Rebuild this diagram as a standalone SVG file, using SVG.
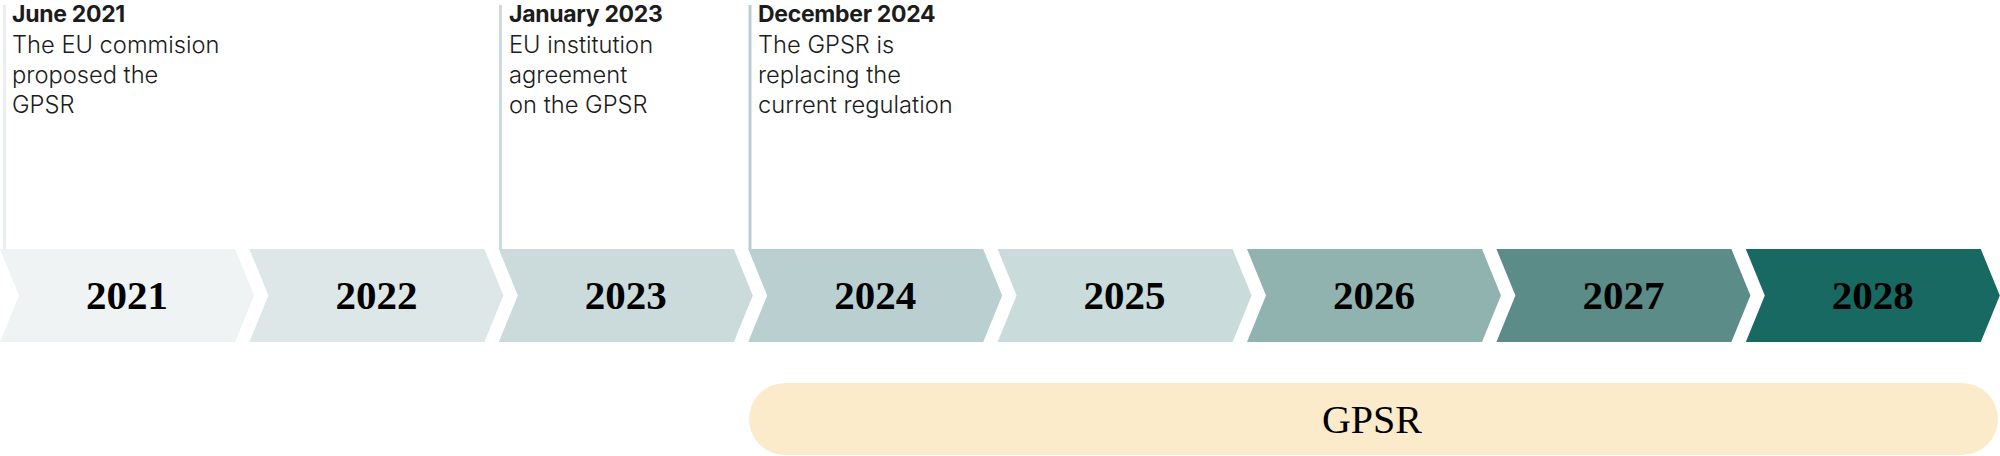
<svg xmlns="http://www.w3.org/2000/svg" width="2000" height="456" viewBox="0 0 2000 456">
<style>
.title{font-family:Inter,"Liberation Sans",sans-serif;font-weight:700;font-size:23px;fill:#1c1c1c;letter-spacing:-0.3px}
.body{font-family:Inter,"Liberation Sans",sans-serif;font-weight:300;font-size:23.7px;fill:#1c1c1c}
.year{font-family:"Liberation Serif",serif;font-weight:700;font-size:41px;fill:#000;text-anchor:middle}
.gpsr{font-family:"Liberation Serif",serif;font-size:40px;fill:#000;text-anchor:middle}
</style>
<defs>
<polygon id="chev" points="0,249 235,249 254,295.5 235,342 0,342 19,295.5"/>
</defs>
<rect width="2000" height="456" fill="#fff"/>
<g id="connectors">
<rect x="3" y="5" width="3" height="244" fill="#e9eeee"/>
<rect x="499" y="5" width="3" height="244" fill="#cbdada"/>
<rect x="748.5" y="5" width="3" height="244" fill="#b9cfcf"/>
</g>
<g id="event-2021">
<text class="title" x="12" y="22">June 2021</text>
<text class="body" x="12" y="53">The EU commision</text>
<text class="body" x="12" y="83">proposed the</text>
<text class="body" x="12" y="113">GPSR</text>
</g>
<g id="event-2023">
<text class="title" x="509" y="22">January 2023</text>
<text class="body" x="509" y="53">EU institution</text>
<text class="body" x="509" y="83">agreement</text>
<text class="body" x="509" y="113">on the GPSR</text>
</g>
<g id="event-2024">
<text class="title" x="758" y="22">December 2024</text>
<text class="body" x="758" y="53">The GPSR is</text>
<text class="body" x="758" y="83">replacing the</text>
<text class="body" x="758" y="113">current regulation</text>
</g>
<g id="y2021"><use href="#chev" x="0" fill="#eff3f3"/><text class="year" x="127" y="309">2021</text></g>
<g id="y2022"><use href="#chev" x="249.4" fill="#dee7e7"/><text class="year" x="376.4" y="309">2022</text></g>
<g id="y2023"><use href="#chev" x="498.8" fill="#cbdbdb"/><text class="year" x="625.8" y="309">2023</text></g>
<g id="y2024"><use href="#chev" x="748.2" fill="#b9cfd0"/><text class="year" x="875.2" y="309">2024</text></g>
<g id="y2025"><use href="#chev" x="997.6" fill="#c9dbda"/><text class="year" x="1124.6" y="309">2025</text></g>
<g id="y2026"><use href="#chev" x="1247" fill="#91b3b0"/><text class="year" x="1374" y="309">2026</text></g>
<g id="y2027"><use href="#chev" x="1496.4" fill="#5b8c87"/><text class="year" x="1623.4" y="309">2027</text></g>
<g id="y2028"><use href="#chev" x="1745.8" fill="#176962"/><text class="year" x="1872.8" y="309">2028</text></g>
<g id="gpsr-bar">
<rect x="749" y="383" width="1249" height="72" rx="36" fill="#fcebcb"/>
<text class="gpsr" x="1372" y="433">GPSR</text>
</g>
</svg>
